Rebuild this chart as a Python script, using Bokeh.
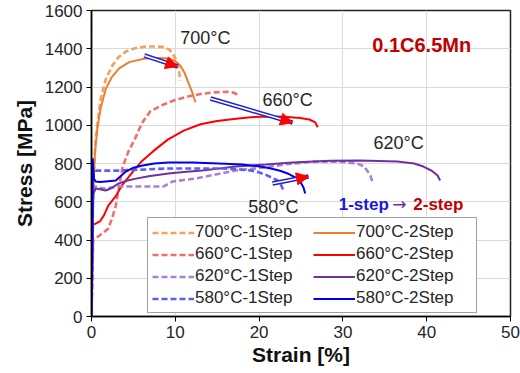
from bokeh.plotting import figure
from bokeh.models import Legend, LegendItem, Arrow, NormalHead, FixedTicker
from bokeh.core.properties import value
from bokeh.embed import file_html
from bokeh.resources import INLINE

# ---------------- data ----------------
x700_1 = [0.0, 0.2, 0.5, 1.1, 1.7, 2.5, 3.2, 4.1, 5.2, 6.4, 7.5, 8.5, 9.3, 9.7, 10.1, 10.4, 10.6]
y700_1 = [0, 700, 930, 1140, 1240, 1313, 1355, 1386, 1403, 1411, 1412, 1410, 1395, 1375, 1340, 1300, 1234]
x700_2 = [0.0, 0.1, 0.4, 0.7, 1.1, 1.7, 2.4, 3.3, 4.5, 6.4, 8.0, 9.2, 10.0, 10.6, 11.1, 11.5, 12.0, 12.4]
y700_2 = [0, 500, 850, 985, 1090, 1190, 1250, 1297, 1330, 1349, 1352, 1349, 1335, 1312, 1275, 1229, 1175, 1120]

x660_1 = [0.0, 0.2, 0.5, 1.0, 1.6, 2.0, 2.5, 2.9, 3.3, 3.7, 4.4, 5.2, 6.0, 7.0, 8.4, 9.8, 11.5, 13.0, 14.6, 16.2, 17.0, 17.5]
y660_1 = [0, 400, 410, 425, 445, 460, 520, 580, 680, 780, 862, 930, 1010, 1072, 1105, 1129, 1150, 1163, 1172, 1175, 1170, 1158]
x660_2 = [0.0, 0.2, 0.5, 1.0, 1.5, 2.0, 2.9, 3.7, 5.0, 6.0, 7.3, 9.1, 11.0, 13.0, 15.0, 17.0, 19.0, 21.0, 23.0, 24.9, 26.0, 26.7, 27.0]
y660_2 = [0, 480, 486, 497, 530, 580, 630, 690, 760, 812, 862, 925, 972, 1005, 1022, 1033, 1042, 1046, 1045, 1038, 1030, 1015, 990]

x620_1 = [0.0, 0.2, 0.5, 1.0, 1.7, 3.2, 5.3, 7.0, 8.6, 9.7, 11.0, 12.4, 14.5, 17.2, 20.8, 23.0, 26.5, 29.5, 31.7, 32.5, 32.9, 33.3, 33.5]
y620_1 = [0, 660, 680, 672, 669, 680, 680, 680, 680, 706, 714, 721, 740, 763, 780, 795, 810, 810, 800, 785, 763, 735, 706]
x620_2 = [0.0, 0.2, 0.5, 1.0, 1.7, 2.4, 3.2, 4.2, 5.3, 7.0, 9.2, 11.0, 13.2, 15.0, 17.2, 20.8, 24.0, 28.5, 32.0, 36.5, 38.5, 39.6, 40.6, 41.3, 41.6]
y620_2 = [0, 640, 669, 665, 659, 672, 695, 710, 721, 735, 748, 756, 763, 772, 784, 795, 805, 814, 816, 810, 800, 784, 762, 737, 711]

x580_1 = [0.0, 0.1, 0.2, 0.3, 0.5, 1.5, 3.2, 6.0, 9.2, 12.0, 15.2, 17.5, 19.0, 19.9, 21.0, 22.2, 22.6, 22.9]
y580_1 = [0, 400, 780, 770, 763, 763, 763, 768, 774, 774, 774, 770, 763, 755, 737, 711, 690, 659]
x580_2 = [0.0, 0.1, 0.15, 0.2, 0.3, 0.5, 1.0, 1.7, 2.9, 4.1, 5.0, 6.1, 7.5, 9.2, 12.0, 15.2, 18.0, 19.0, 20.5, 21.4, 22.5, 23.4, 24.3, 24.9, 25.3, 25.5]
y580_2 = [0, 400, 826, 780, 720, 706, 703, 706, 711, 758, 778, 790, 800, 805, 805, 800, 795, 790, 782, 774, 762, 748, 728, 706, 675, 643]

series_labels = ["700°C-1Step", "700°C-2Step", "660°C-1Step", "660°C-2Step",
                 "620°C-1Step", "620°C-2Step", "580°C-1Step", "580°C-2Step"]
series_colors = ["#F5A15E", "#ED7D31", "#F26D6D", "#FF0000",
                 "#A683D2", "#7030A0", "#5E5EF2", "#0000F0"]

temp_labels = ["700°C", "660°C", "620°C", "580°C"]
temp_x = [10.6, 20.4, 33.65, 18.7]
temp_y = [1454, 1132, 905, 572]

arrow_x0 = [6.3, 14.2, 21.6]
arrow_y0 = [1365, 1140, 695]
arrow_x1 = [10.3, 24.0, 25.9]
arrow_y1 = [1307, 1014, 732]

x_ticks = [0, 10, 20, 30, 40, 50]
y_ticks = [0, 200, 400, 600, 800, 1000, 1200, 1400, 1600]

FONT = "Liberation Sans"
TXT = "#262626"

p = figure(width=520, height=370, x_range=(0, 50), y_range=(0, 1600),
           output_backend="svg", toolbar_location=None,
           min_border_left=91, min_border_right=10, min_border_top=10, min_border_bottom=54)

p.xaxis.ticker = FixedTicker(ticks=x_ticks)
p.yaxis.ticker = FixedTicker(ticks=y_ticks)
for ax in (p.xaxis[0], p.yaxis[0]):
    ax.major_label_text_font = FONT
    ax.major_label_text_font_size = "17px"
    ax.major_label_text_color = TXT
    ax.axis_label_text_font = FONT
    ax.axis_label_text_font_size = "21px"
    ax.axis_label_text_font_style = "bold"
    ax.axis_label_text_color = "#111111"
    ax.axis_line_color = "black"
    ax.axis_line_width = 1.5
    ax.major_tick_line_color = "black"
    ax.major_tick_out = 5
    ax.major_tick_in = 0
    ax.minor_tick_line_color = None
p.xaxis.axis_label = "Strain [%]"
p.yaxis.axis_label = "Stress [MPa]"
p.xaxis.axis_label_standoff = 2
p.yaxis.axis_label_standoff = 6
p.xaxis.major_label_standoff = 4
p.yaxis.major_label_standoff = 4

p.xgrid.grid_line_color = "#DADADA"
p.ygrid.grid_line_color = "#DADADA"
p.outline_line_color = "#222222"
p.outline_line_width = 1.5

xs = [x700_1, x700_2, x660_1, x660_2, x620_1, x620_2, x580_1, x580_2]
ys = [y700_1, y700_2, y660_1, y660_2, y620_1, y620_2, y580_1, y580_2]

renderers = []
for i, (xx, yy) in enumerate(zip(xs, ys)):
    dashed = (i % 2 == 0)
    r = p.line(xx, yy, line_color=series_colors[i],
               line_width=2.6 if dashed else 2.0,
               line_dash="6 3" if dashed else "solid")
    renderers.append(r)

# double-line arrows
p.segment(arrow_x0, arrow_y0, arrow_x1, arrow_y1, line_color="#1F1FD0", line_width=4.5)
p.segment(arrow_x0, arrow_y0, arrow_x1, arrow_y1, line_color="white", line_width=1.6)
for a0, b0, a1, b1 in zip(arrow_x0, arrow_y0, arrow_x1, arrow_y1):
    p.add_layout(Arrow(x_start=a0, y_start=b0, x_end=a1, y_end=b1, line_alpha=0,
                       end=NormalHead(size=12, fill_color="#FF0000", line_color="#FF0000")))

p.text(temp_x, temp_y, text=temp_labels, text_font=value(FONT), text_font_size="18px",
       text_color=TXT, text_baseline="middle", text_align="left")
p.text([33.5], [1420], text=["0.1C6.5Mn"], text_font=value(FONT), text_font_size="20px",
       text_font_style="bold", text_color="#C00000", text_baseline="middle")
p.text([29.5], [585], text=["1-step"], text_font=value(FONT), text_font_size="17px",
       text_font_style="bold", text_color="#1818E0", text_baseline="middle")
p.text([35.9], [587], text=["→"], text_font=value("DejaVu Sans"), text_font_size="17px",
       text_color="#7030A0", text_baseline="middle")
p.text([38.4], [585], text=["2-step"], text_font=value(FONT), text_font_size="17px",
       text_font_style="bold", text_color="#C00000", text_baseline="middle")

# column-first ordering: 1Step series in first column, 2Step in second
order = [0, 2, 4, 6, 1, 3, 5, 7]
items = [LegendItem(label=series_labels[i], renderers=[renderers[i]]) for i in order]
legend = Legend(items=items, ncols=2, location=(56, 3),
                label_text_font=FONT, label_text_font_size="17px", label_text_color=TXT,
                glyph_width=42, glyph_height=17, label_standoff=1, label_height=17,
                label_width=116, spacing=2, padding=4, margin=0,
                border_line_color="#444444", border_line_width=1.2,
                background_fill_color="white", background_fill_alpha=1)
p.add_layout(legend, "center")

open("out.html", "w").write(file_html(p, INLINE))
